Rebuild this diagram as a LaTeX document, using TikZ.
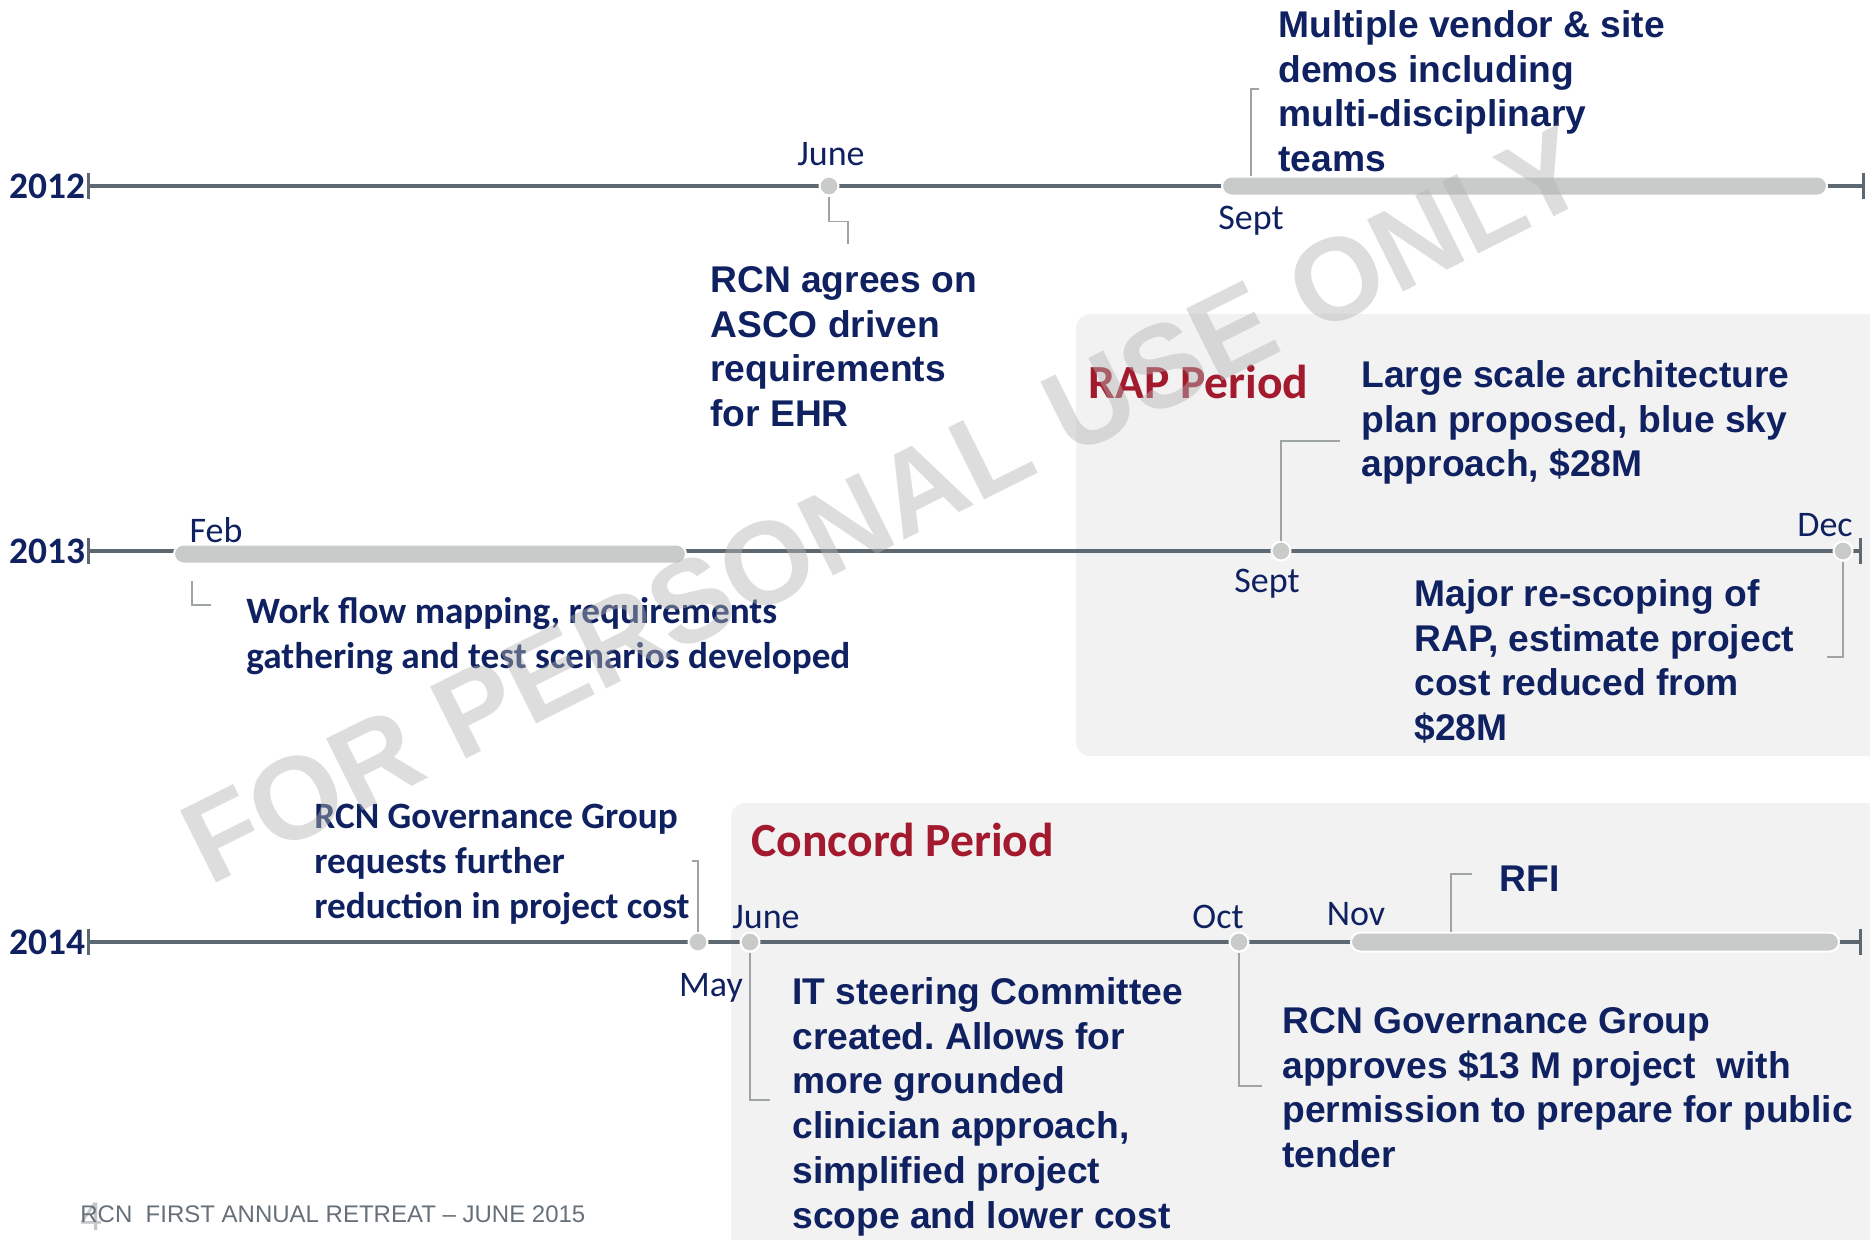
\documentclass[tikz,border=0pt]{standalone}
\usepackage{fontspec}
\setmainfont{Liberation Sans}
\newfontfamily\calibri{Carlito}
\usetikzlibrary{positioning}
\frenchspacing

\definecolor{navy}{HTML}{0F2160}
\definecolor{rapred}{HTML}{A3192E}
\definecolor{axisgray}{HTML}{5E6870}
\definecolor{bargray}{HTML}{C8CBCA}
\definecolor{leadgray}{HTML}{9EA3A6}
\definecolor{boxgray}{HTML}{F2F2F2}
\definecolor{footgray}{HTML}{66707A}
\definecolor{stampgray}{HTML}{B4B4B4}

\begin{document}
\begin{tikzpicture}
  [x=0.5pt, y=-0.5pt,
    yearline/.style={draw=axisgray, line width=1.8pt},
    endtick/.style={draw=axisgray, line width=1.5pt},
    lead/.style={draw=leadgray, line width=0.8pt},
    tldot/.style={
      circle, fill=bargray, draw=white, line width=1pt,
      minimum size=9.5pt, inner sep=0pt
    },
    span/.style={
      rectangle, rounded corners=4.75pt, fill=bargray, draw=white,
      line width=1pt, minimum height=9.5pt, inner sep=0pt
    },
    year/.style={font=\calibri\bfseries\fontsize{18.7}{22}\selectfont,
      text=navy, anchor=east, inner sep=0pt},
    month/.style={font=\calibri\fontsize{18}{22}\selectfont,
      text=navy, anchor=base, inner sep=0pt},
    note/.style={font=\bfseries\fontsize{18.6}{22.4}\selectfont,
      text=navy, align=left, anchor=north west, inner sep=0pt},
    cnote/.style={note, font=\calibri\bfseries\fontsize{18.6}{22.5}\selectfont},
    period/.style={font=\calibri\bfseries\fontsize{23.8}{28}\selectfont,
      text=rapred, anchor=west, inner sep=0pt},
    periodbox/.style={fill=boxgray, rounded corners=7pt},
  ]
  \useasboundingbox (0,0) rectangle (1870,1239);
  \clip (0,0) rectangle (1870,1239);

  % Period boxes
  \path[periodbox] (1076,314) rectangle (1900,756);
  \path[periodbox] (731,803) rectangle (1900,1260);
  \node[period] (rap) at (1088,382) {RAP Period};
  \node[period] (concord) at (751,840) {Concord Period};

  % Year lines
  \foreach \yr/\yy/\xe in {2012/186/1863, 2013/551/1860, 2014/942/1860} {
    \node[year] (y\yr) at (86,\yy) {\yr};
    \coordinate (s\yr) at (88,\yy);
    \coordinate (e\yr) at (\xe,\yy);
    \draw[yearline] (s\yr) -- (e\yr);
    \draw[endtick] ([yshift=6.5pt]s\yr) -- ([yshift=-6.5pt]s\yr);
    \draw[endtick] ([yshift=6.5pt]e\yr) -- ([yshift=-6.5pt]e\yr);
  }

  % 2012
  \node[span, minimum width=302.5pt] (septbar) at (1524.5,186) {};
  \node[tldot] (june12) at (829,186) {};
  \node[month] (ljune12) at (831,165) {June};
  \node[month] (lsept12) at (1251,229) {Sept};
  \node[note] (agree) at (710,266)
    {RCN agrees on\\ASCO driven\\requirements\\for EHR};
  \node[note] (vendor) at (1278,10)
    {Multiple vendor \& site\\demos including\\multi-disciplinary\\teams};
  \coordinate (c1) at (848,244);
  \coordinate (c2a) at (1251,89);
  \coordinate (c2) at (1259,89);
  \draw[lead] (june12.south) -- ++(0,25) -| (c1);
  \draw[lead] (c2) -- (c2a) -- (c2a |- septbar.north);

  % 2013
  \node[span, minimum width=256pt] (febbar) at (430,554) {};
  \node[tldot] (sept13) at (1281,551) {};
  \node[tldot] (dec) at (1843,551) {};
  \node[month] (lfeb) at (216,542) {Feb};
  \node[month] (lsept13) at (1267,592) {Sept};
  \node[month] (ldec) at (1825,536) {Dec};
  \node[cnote] (workflow) at (246,597)
    {Work flow mapping, requirements\\gathering and test scenarios developed};
  \node[note] (largescale) at (1361,360)
    {Large scale architecture\\plan proposed, blue sky\\approach, \$28M};
  \node[note] (rescope) at (1414,579)
    {Major re-scoping of\\RAP, estimate project\\cost reduced from\\\$28M};
  \coordinate (c3a) at (192,581);
  \coordinate (c3) at (211,605);
  \coordinate (c4) at (1340,441);
  \coordinate (c5) at (1827,657);
  \draw[lead] (c3a) |- (c3);
  \draw[lead] (sept13) |- (c4);
  \draw[lead] (dec) |- (c5);

  % 2014
  \node[span, minimum width=244pt] (novbar) at (1595,942) {};
  \node[tldot] (may) at (698,942) {};
  \node[tldot] (june14) at (750,942) {};
  \node[tldot] (oct) at (1239,942) {};
  \node[month] (lmay) at (711,996) {May};
  \node[month] (ljune14) at (766,928) {June};
  \node[month] (loct) at (1218,928) {Oct};
  \node[month] (lnov) at (1356,925) {Nov};
  \node[cnote] (request) at (314,804)
    {RCN Governance Group\\requests further\\reduction in project cost};
  \node[note] (steering) at (792,977)
    {IT steering Committee\\created. Allows for\\more grounded\\clinician approach,\\simplified project\\scope and lower cost};
  \node[note] (approve) at (1282,1007)
    {RCN Governance Group\\approves \$13 M project\ \ with\\permission to prepare for public\\tender};
  \node[note, anchor=west] (rfi) at (1499,879) {RFI};
  \coordinate (c6) at (692,861);
  \coordinate (c7) at (770,1100);
  \coordinate (c8) at (1262,1086);
  \coordinate (c9a) at (1451,874);
  \coordinate (c9) at (1472,874);
  \draw[lead] (may) |- (c6);
  \draw[lead] (june14) |- (c7);
  \draw[lead] (oct) |- (c8);
  \draw[lead] (c9) -- (c9a) -- (c9a |- novbar.north);

  % Footer and watermark
  \node[anchor=west, inner sep=0pt, text=gray!45,
    font=\fontsize{20}{20}\selectfont] (pagenum) at (80,1217) {4};
  \node[anchor=west, inner sep=0pt, text=footgray,
    font=\fontsize{12}{14}\selectfont] (footer) at (80,1214)
    {RCN\ \ FIRST ANNUAL RETREAT -- JUNE 2015};
  \node[rotate=26.5, inner sep=0pt, text=stampgray, text opacity=0.45,
    font=\bfseries\fontsize{58.5}{60}\selectfont] (stamp) at (885,505)
    {FOR PERSONAL USE ONLY};
\end{tikzpicture}
\end{document}
